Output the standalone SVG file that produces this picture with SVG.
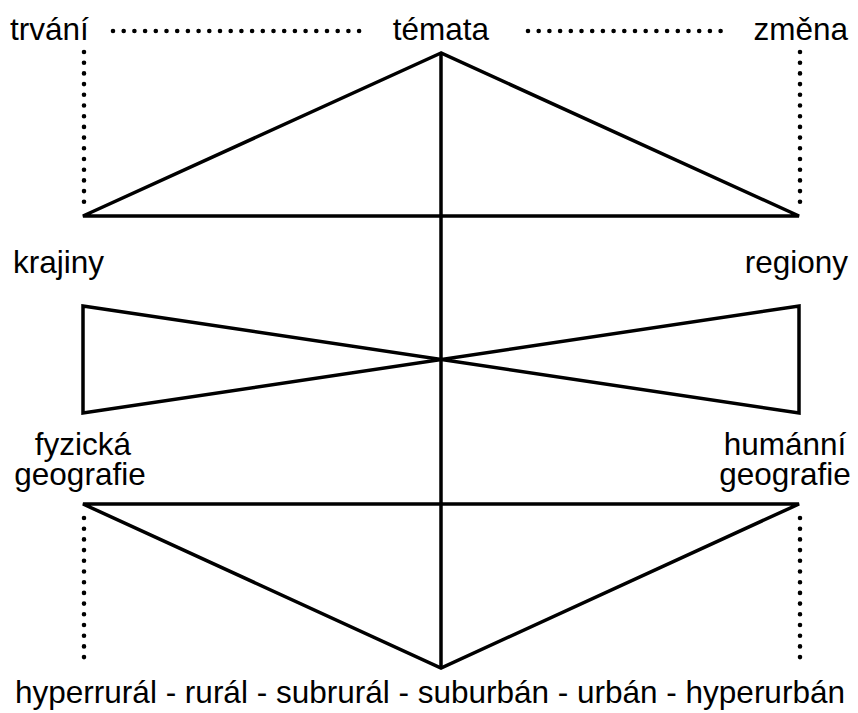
<svg xmlns="http://www.w3.org/2000/svg" width="858" height="713" viewBox="0 0 858 713">
<style>
text{font-family:"Liberation Sans",Arial,sans-serif;font-size:31.5px;fill:#000}
.s{stroke:#000;stroke-width:3.5;fill:none;stroke-linejoin:miter}
.d{stroke:#000;stroke-width:4.6;stroke-linecap:round;stroke-dasharray:0 10.7;fill:none}
</style>
<rect width="858" height="713" fill="#fff"/>
<g id="connectors">
<path class="s" d="M441,53 L83,216 L799,216 Z"/>
<line class="s" x1="441" y1="53" x2="441" y2="668"/>
<path class="s" d="M83,306 L799,413 L799,306 L83,413 Z"/>
<path class="s" d="M83,504 L799,504 L441,668 Z"/>
<line class="d" x1="113" y1="31" x2="360" y2="31"/>
<line class="d" x1="528" y1="31" x2="725" y2="31"/>
<line class="d" x1="84" y1="52" x2="84" y2="202"/>
<line class="d" x1="800" y1="52" x2="800" y2="202"/>
<line class="d" x1="84" y1="518" x2="84" y2="658"/>
<line class="d" x1="800" y1="518" x2="800" y2="658"/>
</g>
<g id="trvani"><text x="10" y="40">trvání</text></g>
<g id="temata"><text x="441" y="40" text-anchor="middle">témata</text></g>
<g id="zmena"><text x="848" y="40" text-anchor="end">změna</text></g>
<g id="krajiny"><text x="13" y="273">krajiny</text></g>
<g id="regiony"><text x="848" y="273" text-anchor="end">regiony</text></g>
<g id="fyzicka"><text x="83" y="455" text-anchor="middle">fyzická</text><text x="80" y="485" text-anchor="middle">geografie</text></g>
<g id="humanni"><text x="785" y="455" text-anchor="middle">humánní</text><text x="785" y="485" text-anchor="middle">geografie</text></g>
<g id="spektrum"><text x="430" y="703" text-anchor="middle">hyperrurál - rurál - subrurál - suburbán - urbán - hyperurbán</text></g>
</svg>
